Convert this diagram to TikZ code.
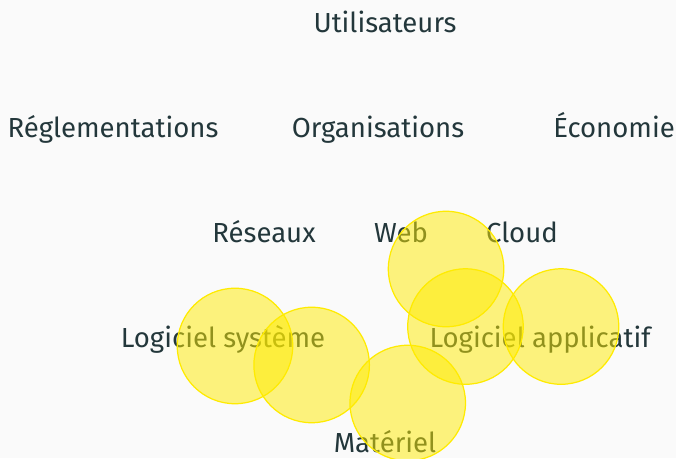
\documentclass[tikz,border=0pt]{standalone}
\usepackage{fontspec}
\setmainfont{Fira Sans}
\usepackage{xcolor}
\usepackage{tikz}
\definecolor{fondclair}{HTML}{FAFAFA}
\definecolor{texteteal}{HTML}{23373B}
\definecolor{jaunebulle}{RGB}{255,235,0}
\tikzset{
  etiquette/.style={text=texteteal, font=\fontsize{11.2pt}{14pt}\selectfont, inner sep=0pt, anchor=base},
  bulle/.style={draw=jaunebulle, fill=jaunebulle, fill opacity=0.5, line width=0.5pt}
}

\begin{document}
\begin{tikzpicture}[scale=1.5]
%%%%% Fond %%%%%
\useasboundingbox (0,0) rectangle (6.438,4.362);
\fill[fondclair] (0,0) rectangle (6.438,4.362);
%%%%% Couches %%%%%
\node[etiquette] (utilisateurs) at (3.667,4.052) {Utilisateurs};
\node[etiquette] (reglementations) at (1.076,3.052) {Réglementations};
\node[etiquette] (organisations) at (3.600,3.052) {Organisations};
\node[etiquette] (economie) at (5.848,3.052) {Économie};
\node[etiquette] (reseaux) at (2.514,2.052) {Réseaux};
\node[etiquette] (web) at (3.819,2.052) {Web};
\node[etiquette] (cloud) at (4.971,2.052) {Cloud};
\node[etiquette] (logsys) at (2.124,1.052) {Logiciel système};
\node[etiquette] (logapp) at (5.143,1.052) {Logiciel applicatif};
\node[etiquette] (materiel) at (3.667,0.052) {Matériel};
%%%%% Bulles %%%%%
\foreach \x/\y in {2.238/1.067, 2.968/0.886, 3.883/0.524, 4.248/1.800, 4.433/1.252, 5.343/1.252}{
  \draw[bulle] (\x,\y) circle (0.55);
}
\end{tikzpicture}
\end{document}
